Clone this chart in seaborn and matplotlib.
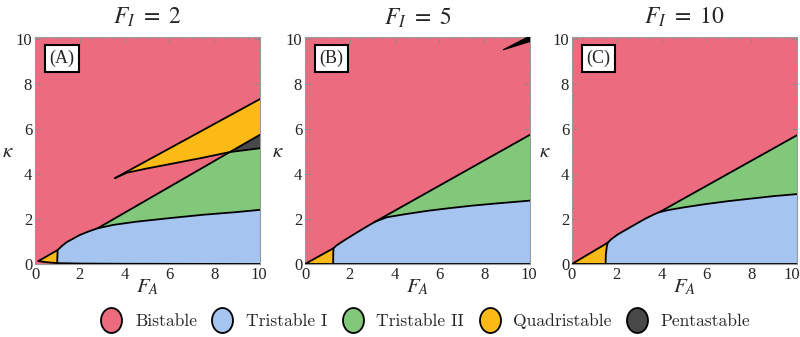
import numpy as np
import matplotlib
matplotlib.use("Agg")
import matplotlib.pyplot as plt
import seaborn as sns
from matplotlib.path import Path
from matplotlib.transforms import Affine2D, ScaledTranslation
from matplotlib.lines import Line2D

# ---------------- data ----------------
titles = [r"$F_I\ =\ 2$", r"$F_I\ =\ 5$", r"$F_I\ =\ 10$"]
panel_tags = ["(A)", "(B)", "(C)"]
categories = ["Bistable", "Tristable I", "Tristable II", "Quadristable", "Pentastable"]
colors = ["#EC6B7F", "#A5C4F0", "#82C87A", "#FCBA16", "#484848"]
ticks = [0, 2, 4, 6, 8, 10]

# Panel A (F_I = 2)
A_edge_x = [0.15, 1.01, 1.2, 1.41, 2.0, 2.4, 2.8, 8.7, 10.05]
A_edge_y = [0.13, 0.62, 0.80, 0.97, 1.29, 1.45, 1.59, 4.98, 5.75]
A_floor_x = [0.15, 0.5, 0.99, 2.0, 4.0, 10.05]
A_floor_y = [0.13, 0.08, 0.04, 0.02, 0.01, 0.0]
A_split_x = [0.99, 1.0, 1.01]
A_split_y = [0.04, 0.33, 0.62]
A_gb_x = [2.8, 3.5, 4.5, 6.0, 7.5, 9.0, 10.05]
A_gb_y = [1.59, 1.74, 1.88, 2.04, 2.19, 2.31, 2.41]
A_wtop_x = [3.57, 10.05]
A_wtop_y = [3.82, 7.34]
A_wbot_x = [3.57, 4.1, 5.0, 6.0, 7.5, 8.7, 10.05]
A_wbot_y = [3.82, 4.06, 4.25, 4.44, 4.73, 4.98, 5.15]

# Panel B (F_I = 5)
B_edge_x = [0.0, 1.27, 1.4, 1.7, 2.2, 2.75, 3.13, 10.05]
B_edge_y = [0.0, 0.70, 0.82, 1.02, 1.33, 1.66, 1.88, 5.75]
B_floor_x = [0.0, 1.26, 10.05]
B_floor_y = [0.0, 0.0, 0.0]
B_split_x = [1.26, 1.26, 1.27]
B_split_y = [0.0, 0.40, 0.70]
B_gb_x = [3.13, 3.65, 4.5, 5.5, 6.5, 7.5, 8.5, 10.05]
B_gb_y = [1.88, 2.08, 2.22, 2.37, 2.49, 2.60, 2.69, 2.82]
B_sliver_x = [8.85, 10.05, 10.05]
B_sliver_y = [9.53, 9.90, 10.15]

# Panel C (F_I = 10)
C_edge_x = [0.0, 1.6, 1.75, 2.05, 2.4, 2.8, 3.3, 3.69, 3.91, 10.05]
C_edge_y = [0.0, 0.95, 1.10, 1.32, 1.52, 1.75, 2.03, 2.22, 2.31, 5.73]
C_floor_x = [0.0, 1.5, 10.05]
C_floor_y = [0.0, 0.0, 0.0]
C_split_x = [1.5, 1.51, 1.55, 1.6]
C_split_y = [0.0, 0.40, 0.75, 0.95]
C_gb_x = [3.91, 4.3, 5.0, 6.0, 7.0, 8.0, 9.0, 10.05]
C_gb_y = [2.31, 2.40, 2.52, 2.67, 2.80, 2.91, 3.02, 3.11]

XMAX, YMAX = 10.05, 10.1

# ---------------- style ----------------
sns.set_theme(style="white")
plt.rcParams['font.family'] = ['Liberation Serif', 'DejaVu Serif']
plt.rcParams['mathtext.fontset'] = 'stix'

fig = plt.figure(figsize=(8, 3.37), dpi=100)
lefts = [35 / 800, 305 / 800, 572 / 800]
axes = [fig.add_axes([l, 73 / 337, 225 / 800, 227 / 337]) for l in lefts]


def pts(xs, ys):
    return np.c_[np.asarray(xs, float), np.asarray(ys, float)]


def sel(p, lo=-np.inf, hi=np.inf, incl_lo=True, incl_hi=True):
    m = np.ones(len(p), bool)
    m &= (p[:, 0] >= lo) if incl_lo else (p[:, 0] > lo)
    m &= (p[:, 0] <= hi) if incl_hi else (p[:, 0] < hi)
    return p[m]


def fill(ax, poly, c):
    ax.fill(poly[:, 0], poly[:, 1], color=c, lw=0, zorder=2)


def line(ax, p):
    sns.lineplot(x=p[:, 0], y=p[:, 1], sort=False, estimator=None,
                 color="black", lw=1.3, ax=ax, zorder=5)


def build_panel(ax, edge, floor, split, gb):
    x_split_top = split[-1, 0]
    x_split_bot = split[0, 0]
    x_junc = gb[0, 0]
    ys = np.vstack([sel(edge, hi=x_split_top), split[::-1],
                    sel(floor, hi=x_split_bot, incl_hi=False)[::-1]])
    fill(ax, ys, colors[3])
    bl = np.vstack([split, sel(edge, lo=x_split_top, hi=x_junc, incl_lo=False),
                    gb[1:], [[gb[-1, 0], 0.0]],
                    sel(floor, lo=x_split_bot, incl_lo=False)[::-1]])
    fill(ax, bl, colors[1])


# Panel A
ax = axes[0]
eA = pts(A_edge_x, A_edge_y)
fA = pts(A_floor_x, A_floor_y)
sA = pts(A_split_x, A_split_y)
gA = pts(A_gb_x, A_gb_y)
wtA = pts(A_wtop_x, A_wtop_y)
wbA = pts(A_wbot_x, A_wbot_y)
build_panel(ax, eA, fA, sA, gA)
x_cross = A_wbot_x[5]
green = np.vstack([sel(eA, lo=gA[0, 0], hi=x_cross), sel(wbA, lo=x_cross, incl_lo=False), gA[::-1]])
fill(ax, green, colors[2])
fill(ax, np.vstack([wtA, wbA[::-1]]), colors[3])
dark = np.vstack([sel(eA, lo=x_cross), sel(wbA, lo=x_cross, incl_lo=False)[::-1]])
fill(ax, dark, colors[4])
for p in (eA, fA, sA, gA, wtA, wbA):
    line(ax, p)

# Panel B
ax = axes[1]
eB = pts(B_edge_x, B_edge_y)
fB = pts(B_floor_x, B_floor_y)
sB = pts(B_split_x, B_split_y)
gB = pts(B_gb_x, B_gb_y)
build_panel(ax, eB, fB, sB, gB)
fill(ax, np.vstack([sel(eB, lo=gB[0, 0]), gB[::-1]]), colors[2])
sl = pts(B_sliver_x, B_sliver_y)
ax.fill(sl[:, 0], sl[:, 1], color="black", lw=0.8, zorder=5)
for p in (eB, fB, sB, gB):
    line(ax, p)

# Panel C
ax = axes[2]
eC = pts(C_edge_x, C_edge_y)
fC = pts(C_floor_x, C_floor_y)
sC = pts(C_split_x, C_split_y)
gC = pts(C_gb_x, C_gb_y)
build_panel(ax, eC, fC, sC, gC)
fill(ax, np.vstack([sel(eC, lo=gC[0, 0]), gC[::-1]]), colors[2])
for p in (eC, fC, sC, gC):
    line(ax, p)

for ax, t, tag in zip(axes, titles, panel_tags):
    ax.set_facecolor(colors[0])
    ax.set_xlim(0, XMAX)
    ax.set_ylim(0, YMAX)
    ax.set_xticks(ticks)
    ax.set_yticks(ticks)
    ax.set_xticks(np.arange(0, 10.5, 0.5), minor=True)
    ax.set_yticks(np.arange(0, 10.5, 0.5), minor=True)
    ax.tick_params(which="major", direction="in", length=4, width=0.6, color="#8a8a8a",
                   labelsize=12, pad=2, top=True, right=True, bottom=True, left=True)
    ax.tick_params(which="minor", direction="in", length=2, width=0.5, color="#8a8a8a",
                   top=True, right=True, bottom=True, left=True)
    for s in ax.spines.values():
        s.set_color("#9a9a9a")
        s.set_linewidth(0.8)
    ax.set_xlabel("$F_A$", fontsize=15, labelpad=0)
    ax.xaxis.set_label_coords(0.5, -0.06)
    ax.set_ylabel(r"$\kappa$", fontsize=15, rotation=0, va="center", ha="center")
    ax.yaxis.set_label_coords(-0.12, 0.49)
    ax.text(0.5, 1.085, t, transform=ax.transAxes, ha="center", va="center", fontsize=17)
    ax.text(0.118, 0.905, tag, transform=ax.transAxes, ha="center", va="center", fontsize=13,
            zorder=10,
            bbox=dict(boxstyle="square,pad=0.25", fc="white", ec="black", lw=1.5))

# keep the last tick label of the right panel inside the figure
fig.canvas.draw()
last = axes[2].get_xticklabels()[-1]
last.set_transform(last.get_transform() + ScaledTranslation(-4 / 100, 0, fig.dpi_scale_trans))

# legend
ell = Path.unit_circle().transformed(Affine2D().scale(0.84, 1.0))
handles = [Line2D([], [], ls="none", marker=ell, markersize=18, markerfacecolor=c,
                  markeredgecolor="black", markeredgewidth=1.3) for c in colors]
fig.legend(handles, categories, loc="center", bbox_to_anchor=(0.532, 0.047), ncol=5,
           frameon=False, handlelength=1.2, handletextpad=0.75, columnspacing=0.85,
           prop=dict(family="cmr10", size=12.6))

fig.savefig("out.png", dpi=100)
